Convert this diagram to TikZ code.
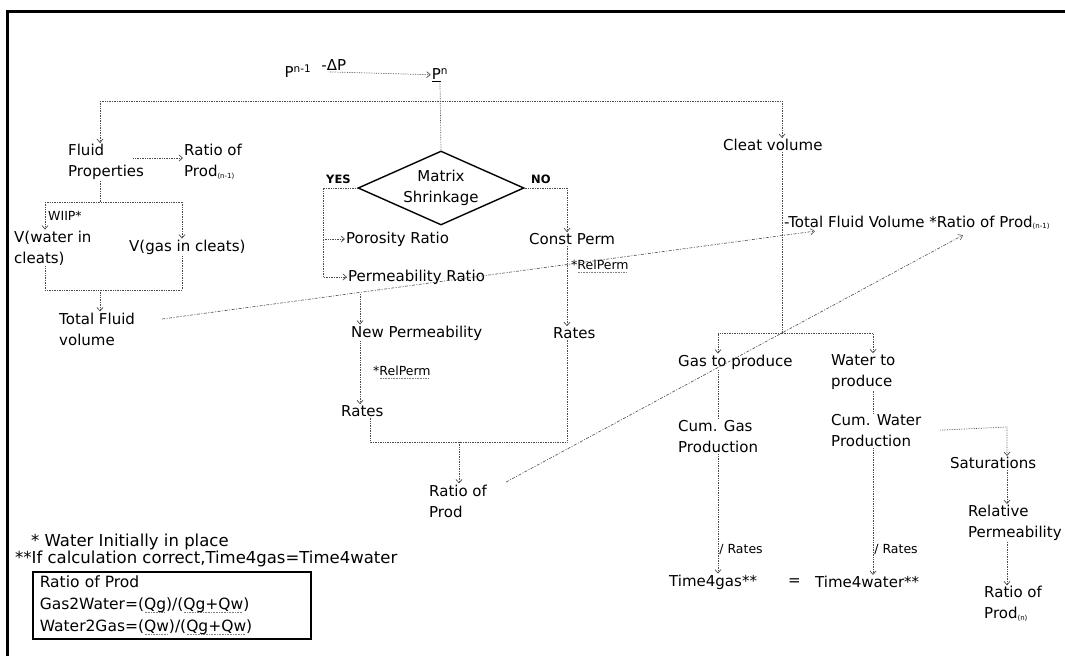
\documentclass[tikz,border=0pt]{standalone}
\usepackage{fontspec}
\setmainfont{DejaVu Sans}
\usetikzlibrary{shapes.geometric, arrows.meta, positioning, calc}
\newcommand{\lowtxt}[1]{\raisebox{-1.5pt}{\fontsize{7}{8}\selectfont #1}}
\newcommand{\dotul}[1]{\setbox0\hbox{#1}\rlap{\raisebox{-2.8pt}{\color{gray}\leaders\hbox to 1.6pt{\hss\rule{0.8pt}{0.6pt}\hss}\hskip\wd0}}\box0}
\tikzset{lbl/.style={inner sep=1pt,anchor=west,align=left,font=\fontsize{15}{21}\selectfont},
         tag/.style={inner sep=1pt,anchor=west,text=black,font=\fontsize{12.5}{14}\selectfont},
         note/.style={inner sep=1pt,anchor=north west,align=left,font=\fontsize{16.5}{14}\selectfont},
         decision/.style={diamond,draw,line width=1.4pt,aspect=2.25,inner sep=0pt,minimum width=166pt,minimum height=74pt,align=center,font=\fontsize{15}{21}\selectfont},
         legendbox/.style={rectangle,draw,line width=1.6pt,anchor=north west,align=left,inner xsep=7pt,inner ysep=4pt,text width=264pt,font=\fontsize{15.5}{22}\selectfont},
         flow/.style={densely dotted,line width=0.7pt,gray!60!black},
         arrow/.style={flow,-{Straight Barb[length=3.5pt,width=6pt]}},
         link/.style={dash pattern=on 3pt off 1.5pt on 1pt off 1.5pt,line width=0.6pt,gray!60!black,-{Straight Barb[length=4pt,width=6pt]}}}

\begin{document}
\begin{tikzpicture}[x=1pt,y=-1pt]
    \useasboundingbox (0,0) rectangle (1065,656);
    % Frame
    \draw[line width=3pt] (7,656) -- (7,11) -- (1065,11);
    % Pressure step
    \node (pnm1) at (298,71) [inner sep=1pt,font=\fontsize{15}{18}\selectfont]{P\textsuperscript{n-1}};
    \node (pn) at (440,75) [inner sep=1pt,font=\fontsize{15}{18}\selectfont]{\underline{P}\textsuperscript{n}};
    \draw[arrow,shorten <=16pt] (pnm1) -- node[above,pos=0.18,inner sep=1pt,text=black,font=\fontsize{15}{18}\selectfont]{-ΔP} (pn);
    % Left column
    \node (fluid) at (67,162) [lbl]{Fluid\\Properties};
    \node (ratio1) at (183,162) [lbl]{Ratio of\\Prod\lowtxt{(n-1)}};
    \node (wiip) at (47,216) [tag]{WIIP*};
    \node (vwater) at (13,248) [lbl]{V(water in\\cleats)};
    \node (vgas) at (128,247) [lbl]{V(gas in cleats)};
    \node (total) at (58,329) [lbl]{Total Fluid\\volume};
    % Middle column
    \node (dec) at (441,188) [decision]{Matrix\\Shrinkage};
    \node (yes) at (325,179) [tag,font=\fontsize{11.5}{13}\selectfont\bfseries]{YES};
    \node (no) at (530,179) [tag,font=\fontsize{11.5}{13}\selectfont\bfseries]{NO};
    \node (poro) at (345,239) [lbl]{Porosity Ratio};
    \node (perm) at (347,277) [lbl]{Permeability Ratio};
    \node (const) at (528,239) [lbl]{Const Perm};
    \node (rp1) at (570,266) [tag]{*\dotul{RelPerm}};
    \node (newperm) at (350,333) [lbl]{New Permeability};
    \node (rates1) at (552,333) [lbl]{Rates};
    \node (rp2) at (372,372) [tag]{*\dotul{RelPerm}};
    \node (rates2) at (340,411) [lbl]{Rates};
    \node (ratio) at (428,501) [lbl]{Ratio of\\Prod};
    % Right column
    \node (cleat) at (722,145) [lbl]{Cleat volume};
    \node (tfv) at (783,223) [lbl]{-Total Fluid Volume *Ratio of Prod\lowtxt{(n-1)}};
    \node (gasp) at (677,362) [lbl]{Gas to produce};
    \node (watp) at (830,372) [lbl]{Water to\\produce};
    \node (cumg) at (677,437) [lbl]{Cum. Gas\\Production};
    \node (cumw) at (830,431) [lbl]{Cum. Water\\Production};
    \node (sat) at (949,463) [lbl]{Saturations};
    \node (relp) at (967,523) [lbl]{Relative\\Permeability};
    \node (ration) at (983,604) [lbl]{Ratio of\\Prod\lowtxt{(n)}};
    \node (t4g) at (668,582) [lbl]{Time4gas**};
    \node (eq) at (787,582) [lbl]{=};
    \node (t4w) at (814,582) [lbl]{Time4water**};
    % Notes
    \node (notes) at (14,533) [note]{\hspace{16pt}* Water Initially in place\\**If calculation correct,Time4gas=Time4water};
    \node (key) at (32,571) [legendbox]{Ratio of Prod\\Gas2Water=(\dotul{Qg})/(\dotul{Qg+Qw})\\Water2Gas=(\dotul{Qw})/(\dotul{Qg+Qw})};
    % Bends
    \coordinate (sl) at (100,101);
    \coordinate (sr) at (782,101);
    \coordinate (wt) at (100,202);
    \coordinate (wl) at (45,202);
    \coordinate (wr) at (182,202);
    \coordinate (bl) at (45,290);
    \coordinate (br) at (182,290);
    \coordinate (bm) at (100,290);
    \coordinate (yc) at (323,188);
    \coordinate (nc) at (567,188);
    \coordinate (np) at (360,294);
    \coordinate (jl) at (370,442);
    \coordinate (jr) at (567,442);
    \coordinate (jm) at (459,442);
    \coordinate (cs) at (782,333);
    \coordinate (gl) at (718,333);
    \coordinate (gr) at (873,333);
    \coordinate (sc) at (1007,427);
    % Connectors
    \draw[flow] (pn.south) -- (dec.north);
    \draw[flow] (sl) -- (sr);
    \draw[arrow] (sl) -- (sl |- fluid.north);
    \draw[arrow] (sr) -- (sr |- cleat.north);
    \draw[arrow] ([xshift=-12pt,yshift=4pt]fluid.east) -- ([yshift=4pt]ratio1.west);
    \draw[flow] (wt |- fluid.south) -- (wt);
    \draw[flow] (wl) -- (wr);
    \draw[arrow] (wl) -- (wl |- vwater.north);
    \draw[arrow] (wr) -- (wr |- vgas.north);
    \draw[flow] (bl |- vwater.south) -- (bl) -- (br) -- (br |- vgas.south);
    \draw[arrow] (bm) -- (bm |- total.north);
    \draw[arrow] (dec.west) -- (yc) -- (yc |- perm) -- (perm.west);
    \draw[arrow] (yc |- poro) -- (poro.west);
    \draw[arrow] (dec.east) -- (nc) -- (nc |- const.north);
    \draw[arrow] (nc |- const.south) -- (nc |- rates1.north);
    \draw[arrow] (np) -- (np |- newperm.north);
    \draw[arrow] (np |- newperm.south) -- (np |- rates2.north);
    \draw[flow] (jl |- rates2.south) -- (jl) -- (jr) -- (jr |- rates1.south);
    \draw[arrow] (jm) -- (jm |- ratio.north);
    \draw[flow] (sr |- cleat.south) -- (cs);
    \draw[arrow] (cs) -- (gl) -- (gl |- gasp.north);
    \draw[arrow] (cs) -- (gr) -- (gr |- watp.north);
    \draw[flow] (gl |- gasp.south) -- (gl |- cumg.north);
    \draw[arrow] (gl |- cumg.south) -- node[pos=0.8,right,tag]{/ Rates} (gl |- t4g.north);
    \draw[flow] (gr |- watp.south) -- (gr |- cumw.north);
    \draw[arrow] (gr |- cumw.south) -- node[pos=0.8,right,tag]{/ Rates} (gr |- t4w.north);
    \draw[arrow,shorten <=18pt] (cumw.east) -- (sc) -- (sc |- sat.north);
    \draw[arrow] (sc |- sat.south) -- (sc |- relp.north);
    \draw[arrow] (sc |- relp.south) -- (sc |- ration.north);
    % Cross links
    \draw[link] ([xshift=26pt,yshift=10pt]total.east) -- ([xshift=32pt]tfv.south west);
    \draw[link] ([xshift=18pt,yshift=19pt]ratio.east) -- ([xshift=180pt,yshift=-4pt]tfv.south west);
\end{tikzpicture}
\end{document}
